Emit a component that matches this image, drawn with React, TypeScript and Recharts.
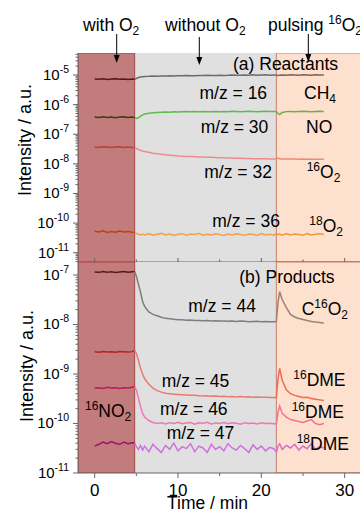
import React from 'react';
import { LineChart, Line, XAxis, YAxis, ReferenceArea } from 'recharts';

const FONT = '"Liberation Sans", Arial, sans-serif';

// time axis (min)
const times = [
  0, 0.5, 1, 1.5, 2, 2.5, 3, 3.5, 4, 4.5, 4.8,
  5, 5.25, 5.5, 5.75,
  6, 6.5, 7, 7.5, 8, 8.5, 9, 9.5, 10, 10.5, 11, 11.5, 12, 12.5, 13, 13.5, 14, 14.5, 15, 15.5,
  16, 16.5, 17, 17.5, 18, 18.5, 19, 19.5, 20, 20.5, 21, 21.5,
  21.8, 22, 22.2, 22.5, 23, 23.5, 24, 24.5, 25, 25.5, 26, 26.5, 27, 27.5,
];
const RED_END = 10; // index of t = 4.8
const ORANGE_START = 47; // index of t = 21.8

// regions (min)
const regionWithO2 = [-2, 4.8];
const regionWithoutO2 = [4.8, 21.8];
const regionPulsing = [21.8, 34];

// (a) Reactants
const mz16 = [
  7.3e-6, 7.2e-6, 7.4e-6, 7.1e-6, 7.3e-6, 7.4e-6, 7.2e-6, 7.3e-6, 7.1e-6, 7.3e-6, 7.2e-6,
  7.6e-6, 8.2e-6, 8.6e-6, 8.8e-6,
  8.9e-6, 9.0e-6, 9.2e-6, 9.1e-6, 9.3e-6, 9.2e-6, 9.4e-6, 9.3e-6, 9.5e-6, 9.4e-6, 9.6e-6, 9.4e-6, 9.5e-6, 9.7e-6, 9.6e-6, 9.8e-6,
  9.6e-6, 9.7e-6, 9.9e-6, 9.7e-6, 9.8e-6, 1.0e-5, 9.8e-6, 9.9e-6, 1.0e-5, 9.8e-6, 1.01e-5, 9.9e-6, 1.0e-5, 1.01e-5, 9.9e-6, 1.0e-5,
  1.0e-5, 9.7e-6, 9.9e-6, 1.0e-5, 9.9e-6, 1.01e-5, 1.0e-5, 9.9e-6, 1.01e-5, 1.0e-5, 9.9e-6, 1.01e-5, 1.0e-5, 1.0e-5,
];
const mz30 = [
  3.8e-7, 3.7e-7, 3.9e-7, 3.7e-7, 3.8e-7, 3.6e-7, 3.8e-7, 3.9e-7, 3.7e-7, 3.8e-7, 3.6e-7,
  3.4e-7, 3.6e-7, 4.1e-7, 4.5e-7,
  4.8e-7, 5.1e-7, 5.3e-7, 5.4e-7, 5.5e-7, 5.6e-7, 5.5e-7, 5.7e-7, 5.6e-7, 5.7e-7, 5.8e-7, 5.7e-7, 5.8e-7, 5.7e-7, 5.9e-7, 5.8e-7,
  5.8e-7, 5.9e-7, 5.8e-7, 5.9e-7, 5.8e-7, 6.0e-7, 5.9e-7, 5.8e-7, 5.9e-7, 6.0e-7, 5.9e-7, 5.8e-7, 5.9e-7, 6.0e-7, 5.9e-7, 5.9e-7,
  5.9e-7, 5.0e-7, 4.6e-7, 5.4e-7, 5.8e-7, 5.9e-7, 5.8e-7, 5.9e-7, 6.0e-7, 5.9e-7, 5.8e-7, 5.9e-7, 6.0e-7, 5.9e-7,
];
const mz32 = [
  3.7e-8, 3.6e-8, 3.8e-8, 3.7e-8, 3.6e-8, 3.7e-8, 3.8e-8, 3.6e-8, 3.7e-8, 3.6e-8, 3.5e-8,
  3.3e-8, 3.05e-8, 2.85e-8, 2.7e-8,
  2.6e-8, 2.45e-8, 2.3e-8, 2.2e-8, 2.1e-8, 2.02e-8, 1.96e-8, 1.9e-8, 1.85e-8, 1.82e-8, 1.78e-8, 1.76e-8, 1.73e-8, 1.71e-8, 1.69e-8, 1.67e-8,
  1.66e-8, 1.63e-8, 1.62e-8, 1.6e-8, 1.58e-8, 1.57e-8, 1.56e-8, 1.54e-8, 1.53e-8, 1.52e-8, 1.5e-8, 1.5e-8, 1.49e-8, 1.48e-8, 1.47e-8, 1.46e-8,
  1.46e-8, 1.58e-8, 1.5e-8, 1.47e-8, 1.46e-8, 1.45e-8, 1.46e-8, 1.44e-8, 1.45e-8, 1.43e-8, 1.44e-8, 1.42e-8, 1.43e-8, 1.42e-8,
];
const mz36 = [
  5.3e-11, 5.0e-11, 5.5e-11, 4.8e-11, 5.2e-11, 4.9e-11, 5.4e-11, 5.0e-11, 5.2e-11, 4.9e-11, 4.8e-11,
  4.5e-11, 4.2e-11, 4.0e-11, 4.3e-11,
  4.0e-11, 4.4e-11, 3.9e-11, 4.2e-11, 4.5e-11, 4.0e-11, 4.3e-11, 3.8e-11, 4.2e-11, 4.4e-11, 3.9e-11, 4.3e-11, 4.1e-11, 4.5e-11, 3.9e-11, 4.2e-11,
  4.0e-11, 4.4e-11, 4.1e-11, 3.8e-11, 4.3e-11, 4.0e-11, 4.4e-11, 4.1e-11, 3.9e-11, 4.3e-11, 4.2e-11, 3.8e-11, 4.4e-11, 4.0e-11, 4.2e-11, 3.9e-11,
  4.5e-11, 4.1e-11, 4.3e-11, 3.9e-11, 4.4e-11, 4.0e-11, 4.3e-11, 4.1e-11, 3.9e-11, 4.4e-11, 4.0e-11, 4.2e-11, 4.4e-11, 4.1e-11,
];

// (b) Products
const mz44 = [
  1.15e-7, 1.13e-7, 1.17e-7, 1.14e-7, 1.16e-7, 1.12e-7, 1.15e-7, 1.18e-7, 1.14e-7, 1.16e-7, 1.17e-7,
  9.5e-8, 6.5e-8, 4.5e-8, 2.9e-8,
  2.3e-8, 1.8e-8, 1.6e-8, 1.5e-8, 1.4e-8, 1.33e-8, 1.3e-8, 1.27e-8, 1.25e-8, 1.24e-8, 1.22e-8, 1.23e-8, 1.2e-8, 1.21e-8, 1.19e-8, 1.2e-8,
  1.18e-8, 1.19e-8, 1.17e-8, 1.18e-8, 1.16e-8, 1.17e-8, 1.15e-8, 1.17e-8, 1.16e-8, 1.14e-8, 1.15e-8, 1.16e-8, 1.14e-8, 1.15e-8, 1.13e-8, 1.14e-8,
  1.14e-8, 2.8e-8, 4.6e-8, 3.2e-8, 2.2e-8, 1.6e-8, 1.42e-8, 1.32e-8, 1.26e-8, 1.2e-8, 1.15e-8, 1.12e-8, 1.1e-8, 1.06e-8,
];
const mz45 = [
  2.8e-9, 2.75e-9, 2.85e-9, 2.78e-9, 2.82e-9, 2.76e-9, 2.84e-9, 2.8e-9, 2.77e-9, 2.83e-9, 3.0e-9,
  2.6e-9, 1.9e-9, 1.3e-9, 1.0e-9,
  8.0e-10, 6.2e-10, 5.2e-10, 4.6e-10, 4.3e-10, 4.1e-10, 4.0e-10, 3.9e-10, 3.85e-10, 3.8e-10, 3.75e-10, 3.7e-10, 3.72e-10, 3.65e-10, 3.6e-10, 3.62e-10,
  3.55e-10, 3.6e-10, 3.5e-10, 3.55e-10, 3.48e-10, 3.5e-10, 3.45e-10, 3.5e-10, 3.42e-10, 3.45e-10, 3.4e-10, 3.42e-10, 3.38e-10, 3.4e-10, 3.35e-10, 3.36e-10,
  3.3e-10, 8.0e-10, 1.3e-9, 7.5e-10, 4.8e-10, 4.0e-10, 3.7e-10, 3.5e-10, 3.35e-10, 3.4e-10, 3.2e-10, 3.1e-10, 3.0e-10, 2.9e-10,
];
const mz46 = [
  5.2e-10, 5.3e-10, 5.1e-10, 5.4e-10, 5.2e-10, 5.3e-10, 5.1e-10, 5.3e-10, 5.2e-10, 5.4e-10, 5.5e-10,
  4.8e-10, 3.3e-10, 2.2e-10, 1.6e-10,
  1.35e-10, 1.15e-10, 1.05e-10, 1.0e-10, 1.03e-10, 9.8e-11, 1.04e-10, 1.0e-10, 1.06e-10, 9.9e-11, 1.02e-10, 1.05e-10, 9.7e-11, 1.03e-10, 1.01e-10, 1.06e-10,
  9.8e-11, 1.02e-10, 1.0e-10, 1.05e-10, 9.9e-11, 1.03e-10, 1.01e-10, 9.7e-11, 1.04e-10, 1.0e-10, 1.02e-10, 9.8e-11, 1.03e-10, 1.0e-10, 1.01e-10, 9.9e-11,
  9.8e-11, 1.7e-10, 2.25e-10, 1.6e-10, 1.35e-10, 1.2e-10, 1.15e-10, 1.1e-10, 1.05e-10, 1.12e-10, 1.2e-10, 1.0e-10, 9.5e-11, 1.0e-10,
];
const mz47 = [
  3.5e-11, 3.8e-11, 4.2e-11, 3.9e-11, 4.3e-11, 4.0e-11, 3.8e-11, 4.2e-11, 3.9e-11, 4.1e-11, 4.0e-11,
  3.4e-11, 3.0e-11, 3.6e-11, 2.9e-11,
  3.5e-11, 2.7e-11, 3.8e-11, 3.1e-11, 2.6e-11, 3.6e-11, 3.0e-11, 4.0e-11, 2.8e-11, 3.4e-11, 3.1e-11, 3.9e-11, 2.7e-11, 3.5e-11, 3.2e-11, 2.6e-11,
  3.8e-11, 3.0e-11, 3.4e-11, 2.8e-11, 3.9e-11, 3.2e-11, 2.9e-11, 3.6e-11, 3.1e-11, 2.6e-11, 3.7e-11, 3.0e-11, 3.5e-11, 2.8e-11, 3.3e-11, 3.1e-11,
  2.6e-11, 3.5e-11, 3.9e-11, 3.0e-11, 3.6e-11, 3.2e-11, 3.8e-11, 2.9e-11, 3.5e-11, 3.1e-11, 3.9e-11, 3.0e-11, 3.4e-11, 3.2e-11,
];

// tick definitions
const xMajorTicks = [0, 10, 20, 30];
const xMinorTicks = [5, 15, 25];
const yExpA = [-11, -10, -9, -8, -7, -6, -5];
const yExpB = [-11, -10, -9, -8, -7];
const domainA: [number, number] = [4.86e-12, 5.53e-5];
const domainB: [number, number] = [1e-11, 1.83e-7];
const xDomain: [number, number] = [-2, 34];

type Series = { name: string; values: number[]; colors: [string, string, string] };

const seriesA: Series[] = [
  { name: 'm16', values: mz16, colors: ['#5a1616', '#6c6c6c', '#7c6458'] },
  { name: 'm30', values: mz30, colors: ['#3e3a12', '#5cbc4c', '#72ad48'] },
  { name: 'm32', values: mz32, colors: ['#c63a3a', '#f08a8a', '#ef8878'] },
  { name: 'm36', values: mz36, colors: ['#c0400c', '#f2a04c', '#f1983e'] },
];
const seriesB: Series[] = [
  { name: 'm44', values: mz44, colors: ['#5a1a1a', '#7e7e7e', '#9c8272'] },
  { name: 'm45', values: mz45, colors: ['#c01e1e', '#e87a72', '#f06a52'] },
  { name: 'm46', values: mz46, colors: ['#c01858', '#ee78b4', '#f57092'] },
  { name: 'm47', values: mz47, colors: ['#a01070', '#d070e0', '#d470c8'] },
];

const segBounds: [number, number][] = [
  [0, RED_END],
  [RED_END, ORANGE_START],
  [ORANGE_START, times.length - 1],
];

function segData(values: number[], a: number, b: number) {
  const out: { t: number; v: number }[] = [];
  for (let i = a; i <= b; i++) out.push({ t: times[i], v: values[i] });
  return out;
}

function logTicks(domain: [number, number], exps: number[]) {
  const res: number[] = [];
  const lo = Math.floor(Math.log10(domain[0]));
  const hi = Math.ceil(Math.log10(domain[1]));
  for (let e = lo; e <= hi; e++) {
    for (let m = 1; m <= 9; m++) {
      const v = m * Math.pow(10, e);
      if (v >= domain[0] * 0.999 && v <= domain[1] * 1.001) {
        if (m === 1 && !exps.includes(e)) continue;
        res.push(v);
      }
    }
  }
  return res;
}

const AXIS = '#666';

const YTick = (props: any) => {
  const { x, y, payload } = props;
  const v = payload.value as number;
  const e = Math.log10(v);
  const major = Math.abs(e - Math.round(e)) < 1e-6;
  return (
    <g>
      <line x1={x - (major ? 5 : 2.5)} x2={x} y1={y} y2={y} stroke={AXIS} strokeWidth={1} />
      {major && (
        <text x={x - 9} y={y + 5} textAnchor="end" fontSize={15} fill="#000" fontFamily={FONT}>
          10
          <tspan dy={-7} fontSize={10.5}>{Math.round(e)}</tspan>
        </text>
      )}
    </g>
  );
};

const XTickBottom = (props: any) => {
  const { x, y, payload } = props;
  const v = payload.value as number;
  const major = xMajorTicks.includes(v);
  return (
    <g>
      <line x1={x} x2={x} y1={y} y2={y + (major ? 5 : 3)} stroke={AXIS} />
      {major && (
        <text x={x} y={y + 23} textAnchor="middle" fontSize={17} fill="#000" fontFamily={FONT}>
          {v}
        </text>
      )}
    </g>
  );
};

const XTickInner = (props: any) => {
  const { x, y, payload } = props;
  const v = payload.value as number;
  const major = xMajorTicks.includes(v);
  return <line x1={x} x2={x} y1={y} y2={y - (major ? 4 : 2.5)} stroke={AXIS} />;
};

const xTicks = [...xMajorTicks, ...xMinorTicks].sort((a, b) => a - b);

function regions() {
  return [
    <ReferenceArea key="g" x1={regionWithoutO2[0]} x2={regionWithoutO2[1]} fill="#e0e0e0" fillOpacity={1} stroke="none" ifOverflow="hidden" />,
    <ReferenceArea key="r" x1={regionWithO2[0]} x2={regionWithO2[1]} fill="#c27c7c" fillOpacity={1} stroke="#a54545" strokeWidth={1} ifOverflow="hidden" />,
    <ReferenceArea key="o" x1={regionPulsing[0]} x2={regionPulsing[1]} fill="#fde0cd" fillOpacity={1} stroke="#c97c6c" strokeWidth={1} ifOverflow="hidden" />,
  ];
}

function lines(series: Series[]) {
  const out: React.ReactNode[] = [];
  series.forEach((s) => {
    segBounds.forEach(([a, b], k) => {
      out.push(
        <Line
          key={s.name + k}
          data={segData(s.values, a, b)}
          dataKey="v"
          type="linear"
          stroke={s.colors[k]}
          strokeWidth={1.5}
          dot={false}
          activeDot={false}
          isAnimationActive={false}
        />
      );
    });
  });
  return out;
}

export default function App() {
  const ticksA = logTicks(domainA, yExpA);
  const ticksB = logTicks(domainB, yExpB);
  const txt = { fontFamily: FONT, fill: '#000' } as const;
  const F = 17.5;
  const S = 12;
  return (
    <div style={{ position: 'absolute', left: 0, top: 0, width: 360, height: 509, overflow: 'hidden', background: '#fff' }}>
      <div style={{ position: 'absolute', left: 0, top: 0 }}>
        <LineChart width={380} height={265} margin={{ top: 53, right: 2, bottom: 0, left: 0 }}>
          <XAxis
            dataKey="t"
            type="number"
            domain={xDomain}
            allowDataOverflow
            ticks={xTicks}
            interval={0}
            height={3}
            tickSize={0}
            tickMargin={0}
            tick={<XTickInner />}
            axisLine={{ stroke: AXIS }}
            tickLine={false}
          />
          <XAxis xAxisId="top" orientation="top" type="number" domain={xDomain} height={0} tick={false} tickLine={false} axisLine={{ stroke: '#999' }} />
          <YAxis
            type="number"
            scale="log"
            domain={domainA}
            allowDataOverflow
            ticks={ticksA}
            interval={0}
            width={78}
            tickSize={0}
            tickMargin={0}
            tick={<YTick />}
            tickLine={false}
            axisLine={{ stroke: AXIS }}
          />
          {regions()}
          {lines(seriesA)}
        </LineChart>
      </div>
      <div style={{ position: 'absolute', left: 0, top: 255 }}>
        <LineChart width={380} height={254} margin={{ top: 7, right: 2, bottom: 0, left: 0 }}>
          <XAxis
            dataKey="t"
            type="number"
            domain={xDomain}
            allowDataOverflow
            ticks={xTicks}
            interval={0}
            height={36}
            tickSize={0}
            tickMargin={0}
            tick={<XTickBottom />}
            axisLine={{ stroke: AXIS }}
            tickLine={false}
          />
          <YAxis
            type="number"
            scale="log"
            domain={domainB}
            allowDataOverflow
            ticks={ticksB}
            interval={0}
            width={78}
            tickSize={0}
            tickMargin={0}
            tick={<YTick />}
            tickLine={false}
            axisLine={{ stroke: AXIS }}
          />
          {regions()}
          {lines(seriesB)}
        </LineChart>
      </div>
      <svg width={360} height={509} style={{ position: 'absolute', left: 0, top: 0, pointerEvents: 'none' }}>
        {/* top labels */}
        <text x={83} y={31} fontSize={F} {...txt}>with O<tspan dy={4} fontSize={S}>2</tspan></text>
        <text x={165} y={31} fontSize={F} {...txt}>without O<tspan dy={4} fontSize={S}>2</tspan></text>
        <text x={268} y={31} fontSize={F} {...txt}>pulsing <tspan dy={-7} fontSize={S}>16</tspan><tspan dy={7}>O</tspan><tspan dy={4} fontSize={S}>2</tspan></text>
        {/* arrows */}
        {[
          [116.7, 34, 63],
          [199.3, 37, 65],
          [308.3, 34, 62],
        ].map(([x, y1, y2], i) => (
          <g key={i}>
            <line x1={x} x2={x} y1={y1} y2={y2 - 6} stroke="#000" strokeWidth={1} />
            <polygon points={`${x - 3},${y2 - 8} ${x + 3},${y2 - 8} ${x},${y2}`} fill="#000" />
          </g>
        ))}
        {/* axis titles */}
        <text transform="translate(25,140) rotate(-90)" textAnchor="middle" dominantBaseline="central" fontSize={18} {...txt}>Intensity / a.u.</text>
        <text transform="translate(27,366) rotate(-90)" textAnchor="middle" dominantBaseline="central" fontSize={18} {...txt}>Intensity / a.u.</text>
        <text x={167} y={509} fontSize={F} {...txt}>Time / min</text>
        {/* panel (a) */}
        <text x={233} y={70} fontSize={F} {...txt}>(a) Reactants</text>
        <text x={199.5} y={99.3} fontSize={F} {...txt}>m/z = 16</text>
        <text x={304} y={99.3} fontSize={F} {...txt}>CH<tspan dy={4} fontSize={S}>4</tspan></text>
        <text x={200.7} y={133.3} fontSize={F} {...txt}>m/z = 30</text>
        <text x={306} y={133.3} fontSize={F} {...txt}>NO</text>
        <text x={204.3} y={178.3} fontSize={F} {...txt}>m/z = 32</text>
        <text x={306.7} y={178.3} fontSize={F} {...txt}><tspan dy={-7} fontSize={S}>16</tspan><tspan dy={7}>O</tspan><tspan dy={4} fontSize={S}>2</tspan></text>
        <text x={212.3} y={226.7} fontSize={F} {...txt}>m/z = 36</text>
        <text x={309.3} y={231.7} fontSize={F} {...txt}><tspan dy={-7} fontSize={S}>18</tspan><tspan dy={7}>O</tspan><tspan dy={4} fontSize={S}>2</tspan></text>
        {/* panel (b) */}
        <text x={239.3} y={282.7} fontSize={F} {...txt}>(b) Products</text>
        <text x={188.3} y={311.7} fontSize={F} {...txt}>m/z = 44</text>
        <text x={301.7} y={315} fontSize={F} {...txt}>C<tspan dy={-7} fontSize={S}>16</tspan><tspan dy={7}>O</tspan><tspan dy={4} fontSize={S}>2</tspan></text>
        <text x={161.7} y={386.7} fontSize={F} {...txt}>m/z = 45</text>
        <text x={293.3} y={386} fontSize={F} {...txt}><tspan dy={-7} fontSize={S}>16</tspan><tspan dy={7}>DME</tspan></text>
        <text x={160} y={415} fontSize={F} {...txt}>m/z = 46</text>
        <text x={291.7} y={418.3} fontSize={F} {...txt}><tspan dy={-7} fontSize={S}>16</tspan><tspan dy={7}>DME</tspan></text>
        <text x={166.7} y={439.3} fontSize={F} {...txt}>m/z = 47</text>
        <text x={296.7} y={450} fontSize={F} {...txt}><tspan dy={-7} fontSize={S}>18</tspan><tspan dy={7}>DME</tspan></text>
        <text x={85} y={416.7} fontSize={F} {...txt}><tspan dy={-7} fontSize={S}>16</tspan><tspan dy={7}>NO</tspan><tspan dy={4} fontSize={S}>2</tspan></text>
      </svg>
    </div>
  );
}
